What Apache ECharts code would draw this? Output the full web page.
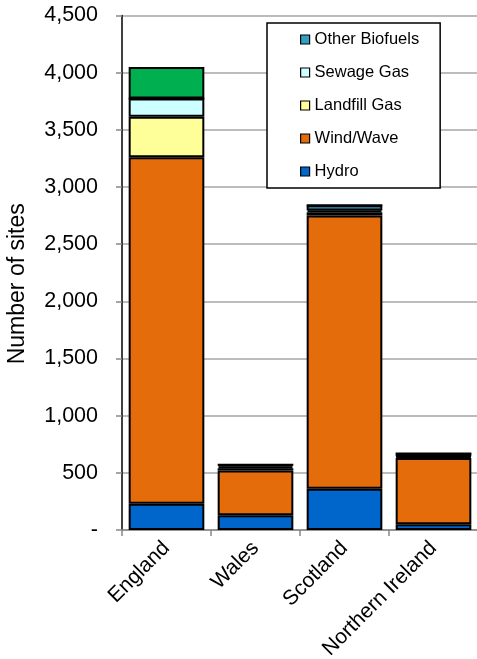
<!DOCTYPE html>
<html><head><meta charset="utf-8">
<script src="https://cdn.jsdelivr.net/npm/echarts@6/dist/echarts.min.js"></script>
<style>html,body{margin:0;padding:0;background:#fff}#c{width:477px;height:659px}</style>
</head><body><div id="c"></div>
<script>
const categories = ['England', 'Wales', 'Scotland', 'Northern Ireland'];
const hydro = [230, 130, 360, 50];
const windWave = [3030, 390, 2390, 580];
const landfillGas = [355, 20, 30, 10];
const sewageGas = [160, 15, 15, 5];
const otherBiofuels = [0, 15, 45, 25];
const otherUnlabelled = [275, 0, 0, 0];
const yTicks = [0, 500, 1000, 1500, 2000, 2500, 3000, 3500, 4000, 4500];

const chart = echarts.init(document.getElementById('c'));
const font = 'Liberation Sans, Arial, sans-serif';
function s(name, data, color) {
  return { name, type: 'bar', stack: 'a', data, barCategoryGap: '15%',
    itemStyle: { color, borderColor: '#000', borderWidth: 2 } };
}
chart.setOption({
  animation: false,
  textStyle: { fontFamily: font },
  grid: { left: 122, top: 15.5, bottom: 129, right: -1, containLabel: false, outerBoundsMode: 'none' },
  legend: {
    data: ['Other Biofuels', 'Sewage Gas', 'Landfill Gas', 'Wind/Wave', 'Hydro'],
    orient: 'vertical', left: 267, top: 23,
    padding: [8, 21, 8, 33], itemWidth: 9, itemHeight: 9, itemGap: 16,
    itemTextGap: 4,
    itemStyle: { borderColor: '#000', borderWidth: 1.2 },
    backgroundColor: '#fff', borderColor: '#000', borderWidth: 1.5,
    textStyle: { fontSize: 16.5, color: '#000', fontFamily: font },
    icon: 'rect'
  },
  xAxis: {
    type: 'category', data: categories,
    axisLine: { lineStyle: { color: '#888', width: 1.5 } },
    axisTick: { show: true, length: 6, lineStyle: { color: '#888', width: 1.5 } },
    axisLabel: { rotate: 45, fontSize: 21, color: '#000', margin: 15, fontFamily: font }
  },
  yAxis: {
    type: 'value', min: 0, max: 4500, interval: 500,
    name: 'Number of sites', nameLocation: 'middle', nameGap: 93,
    nameTextStyle: { fontSize: 23, color: '#000', fontFamily: font, padding: [0, 22, 0, 0] },
    axisLine: { show: true, lineStyle: { color: '#000', width: 1.5 } },
    axisTick: { show: true, length: 6, lineStyle: { color: '#888', width: 1.5 } },
    splitLine: { lineStyle: { color: '#a6a6a6', width: 1.5 } },
    axisLabel: { fontSize: 21.5, color: '#000', margin: 24, fontFamily: font,
      formatter: v => v === 0 ? '-' : v.toLocaleString('en-US') }
  },
  series: [
    s('Hydro', hydro, '#0066cc'),
    s('Wind/Wave', windWave, '#e46c0a'),
    s('Landfill Gas', landfillGas, '#ffff99'),
    s('Sewage Gas', sewageGas, '#ccffff'),
    s('Other Biofuels', otherBiofuels, '#31a0c2'),
    s('Other', otherUnlabelled, '#00b050')
  ]
});
</script></body></html>
